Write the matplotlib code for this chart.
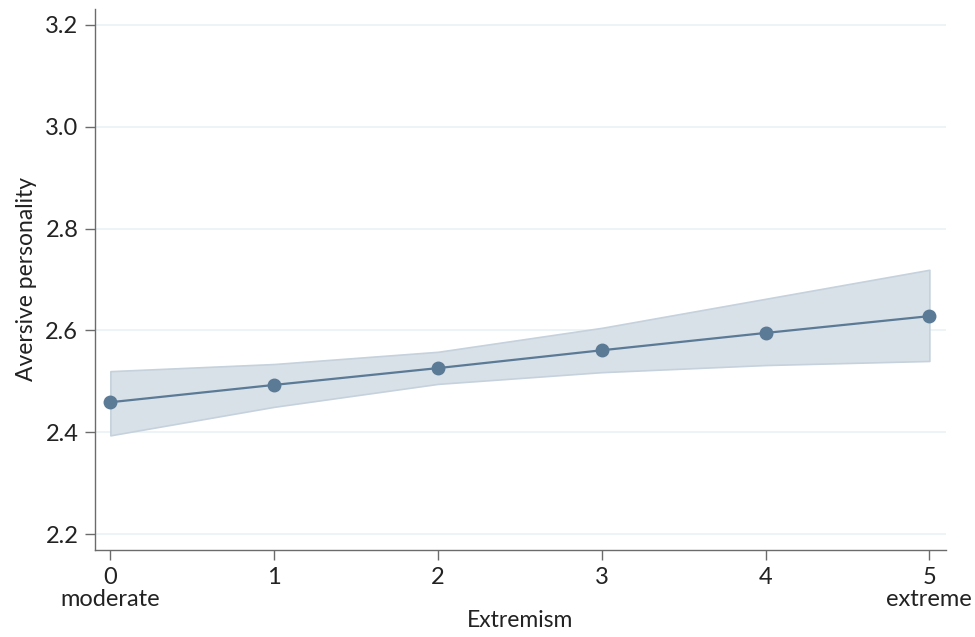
import matplotlib.pyplot as plt
import numpy as np

# Predicted values with 95% CI
extremism = [0, 1, 2, 3, 4, 5]
predicted = [2.459, 2.493, 2.526, 2.561, 2.595, 2.628]
ci_upper = [2.520, 2.534, 2.558, 2.605, 2.662, 2.719]
ci_lower = [2.394, 2.450, 2.495, 2.518, 2.532, 2.540]
x_labels = ['0\nmoderate', '1', '2', '3', '4', '5\nextreme']
y_ticks = [2.2, 2.4, 2.6, 2.8, 3.0, 3.2]

plt.rcParams['font.family'] = ['Lato', 'DejaVu Sans']

fig = plt.figure(figsize=(9.75, 6.37), dpi=100)
ax = fig.add_axes([0.0974, 0.1366, 0.8726, 0.8494])

line_color = '#5b7a96'
ax.fill_between(extremism, ci_lower, ci_upper, color='#d9e1e8',
                edgecolor='#c5d1dc', linewidth=1.2, zorder=2)
ax.plot(extremism, predicted, color=line_color, linewidth=1.6, marker='o',
        markersize=9, zorder=3)

ax.set_xlim(-0.094, 5.1)
ax.set_ylim(2.169, 3.231)
ax.set_xticks(extremism)
ax.set_xticklabels(x_labels, fontsize=17, linespacing=1.05)
ax.set_yticks(y_ticks)
ax.set_yticklabels([f'{v:.1f}' for v in y_ticks], fontsize=17)
ax.grid(axis='y', color='#eaf2f3', linewidth=1.2, zorder=0)
ax.set_axisbelow(True)

for side in ['top', 'right']:
    ax.spines[side].set_visible(False)
for side in ['left', 'bottom']:
    ax.spines[side].set_color('#6b6b6b')
    ax.spines[side].set_linewidth(1.0)
ax.tick_params(axis='both', length=7, width=1.0, color='#6b6b6b',
               labelcolor='#222222', pad=5)

ax.set_xlabel('Extremism', fontsize=16.5, color='#222222', labelpad=0)
ax.set_ylabel('Aversive personality', fontsize=16.5, color='#222222', labelpad=6)

plt.savefig('out.png', dpi=100)
